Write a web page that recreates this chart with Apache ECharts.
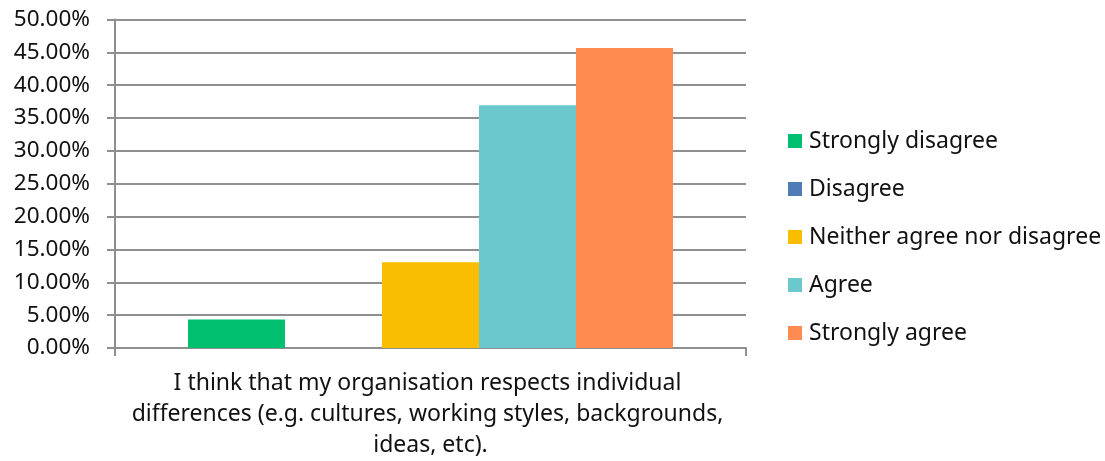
<!DOCTYPE html>
<html>
<head>
<meta charset="utf-8">
<script src="https://cdn.jsdelivr.net/npm/echarts@6/dist/echarts.min.js"></script>
<style>
html,body{margin:0;padding:0;background:#fff;}
#chart{width:1105px;height:461px;}
</style>
</head>
<body>
<div id="chart"></div>
<script>
const categories = ['I think that my organisation respects individual differences (e.g. cultures, working styles, backgrounds, ideas, etc).'];
const seriesNames = ['Strongly disagree', 'Disagree', 'Neither agree nor disagree', 'Agree', 'Strongly agree'];
const stronglyDisagree = [0.0435];
const disagree = [0];
const neither = [0.1304];
const agree = [0.3696];
const stronglyAgree = [0.4565];
const yTicks = { min: 0, max: 0.5, interval: 0.05 };
const colors = ['#00BF6F', '#4F7BB7', '#F9BE00', '#6BC8CD', '#FF8B50'];

const seriesData = [stronglyDisagree, disagree, neither, agree, stronglyAgree];
const FONT = 'Noto Sans';
const grid = '#8f8f8f';

const chart = echarts.init(document.getElementById('chart'), null, {renderer: 'canvas'});
chart.setOption({
  animation: false,
  color: colors,
  grid: { left: 115, right: 359, top: 19.5, bottom: 113, containLabel: false },
  legend: {
    orient: 'vertical',
    left: 783,
    top: 123,
    itemWidth: 14,
    itemHeight: 14,
    itemGap: 22,
    icon: 'rect',
    textStyle: { fontFamily: FONT, fontSize: 23, color: '#111', lineHeight: 26, padding: [0,0,0,2] },
    data: seriesNames
  },
  xAxis: {
    type: 'category',
    data: categories,
    axisLine: { lineStyle: { color: grid, width: 2 } },
    axisTick: { show: true, length: 8, lineStyle: { color: grid, width: 2 } },
    axisLabel: {
      fontFamily: FONT, fontSize: 23, color: '#111', lineHeight: 31,
      margin: 20, width: 620, overflow: 'break', align: 'center'
    }
  },
  yAxis: {
    type: 'value',
    min: yTicks.min, max: yTicks.max, interval: yTicks.interval,
    axisLine: { show: true, lineStyle: { color: grid, width: 2 } },
    axisTick: { show: true, length: 8, lineStyle: { color: grid, width: 2 } },
    splitLine: { lineStyle: { color: grid, width: 2 } },
    axisLabel: {
      fontFamily: FONT, fontSize: 22.5, color: '#111', margin: 25,
      formatter: v => (v * 100).toFixed(2) + '%'
    }
  },
  series: seriesNames.map((name, i) => ({
    name: name,
    type: 'bar',
    data: seriesData[i],
    barWidth: 97,
    barGap: '0%'
  }))
});
</script>
</body>
</html>
